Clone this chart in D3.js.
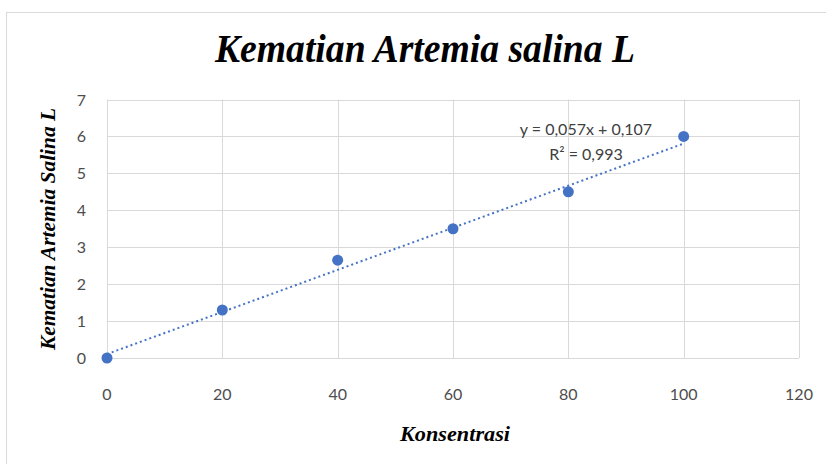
<!DOCTYPE html>
<html><head><meta charset="utf-8">
<script src="https://cdn.jsdelivr.net/npm/d3@7"></script>
<style>body{margin:0;background:#fff}svg{display:block}</style>
</head><body>
<svg id="c" width="826" height="464"></svg>
<script>
const konsentrasi = [0, 20, 40, 60, 80, 100];
const kematian = [0, 1.3, 2.65, 3.5, 4.5, 6.0];
const xTicks = [0, 20, 40, 60, 80, 100, 120];
const yTicks = [0, 1, 2, 3, 4, 5, 6, 7];
const slope = 0.057, intercept = 0.107;
const title = "Kematian Artemia salina L";
const xTitle = "Konsentrasi";
const yTitle = "Kematian Artemia Salina L";
const eqLines = ["y = 0,057x + 0,107", "R² = 0,993"];

const svg = d3.select("#c");
svg.append("rect").attr("x",6.5).attr("y",12.5).attr("width",830).attr("height",470)
  .attr("fill","#fff").attr("stroke","#d9d9d9");

const x = d3.scaleLinear().domain([0,120]).range([107,799]);
const y = d3.scaleLinear().domain([0,7]).range([358,99.5]);
const grid = "#d9d9d9";

svg.append("g").selectAll("line").data(yTicks).join("line")
  .attr("x1",x(0)).attr("x2",x(120)).attr("y1",d=>Math.round(y(d))+0.5).attr("y2",d=>Math.round(y(d))+0.5)
  .attr("stroke",grid);
svg.append("g").selectAll("line").data(xTicks).join("line")
  .attr("y1",y(0)).attr("y2",y(7)).attr("x1",d=>Math.round(x(d))+0.5).attr("x2",d=>Math.round(x(d))+0.5)
  .attr("stroke",grid);

const font = "Lato, 'Open Sans', sans-serif";
svg.append("g").selectAll("text").data(yTicks).join("text")
  .attr("x",86).attr("y",d=>y(d)+6).attr("text-anchor","end")
  .attr("font-family",font).attr("font-size",16).attr("fill","#4d4d4d").text(d=>d);
svg.append("g").selectAll("text").data(xTicks).join("text")
  .attr("x",d=>x(d)).attr("y",400).attr("text-anchor","middle")
  .attr("font-family",font).attr("font-size",16).attr("fill","#4d4d4d").text(d=>d);

const blue = "#4472c4";
svg.append("line")
  .attr("x1",x(0)).attr("y1",y(intercept)).attr("x2",x(100)).attr("y2",y(slope*100+intercept))
  .attr("stroke",blue).attr("stroke-width",2).attr("stroke-dasharray","2,3");

svg.append("g").selectAll("circle").data(konsentrasi).join("circle")
  .attr("cx",d=>x(d)).attr("cy",(d,i)=>y(kematian[i])).attr("r",5.5).attr("fill",blue);

svg.append("g").selectAll("text").data(eqLines).join("text")
  .attr("x",586).attr("y",(d,i)=>135+i*25).attr("text-anchor","middle")
  .attr("font-family",font).attr("font-size",16).attr("fill","#404040").text(d=>d);

const serif = "'Liberation Serif','Times New Roman',serif";
svg.append("text").attr("x",425).attr("y",62).attr("text-anchor","middle")
  .attr("font-family",serif).attr("font-weight","bold").attr("font-style","italic")
  .attr("font-size",40).attr("textLength",420).attr("lengthAdjust","spacingAndGlyphs")
  .attr("fill","#000").text(title);
svg.append("text").attr("x",455).attr("y",441).attr("text-anchor","middle")
  .attr("font-family",serif).attr("font-weight","bold").attr("font-style","italic")
  .attr("font-size",20).attr("textLength",110).attr("lengthAdjust","spacingAndGlyphs")
  .attr("fill","#000").text(xTitle);
svg.append("text").attr("transform","translate(55,229) rotate(-90)").attr("text-anchor","middle")
  .attr("font-family",serif).attr("font-weight","bold").attr("font-style","italic")
  .attr("font-size",20).attr("textLength",242).attr("lengthAdjust","spacingAndGlyphs")
  .attr("fill","#000").text(yTitle);
</script>
</body></html>
